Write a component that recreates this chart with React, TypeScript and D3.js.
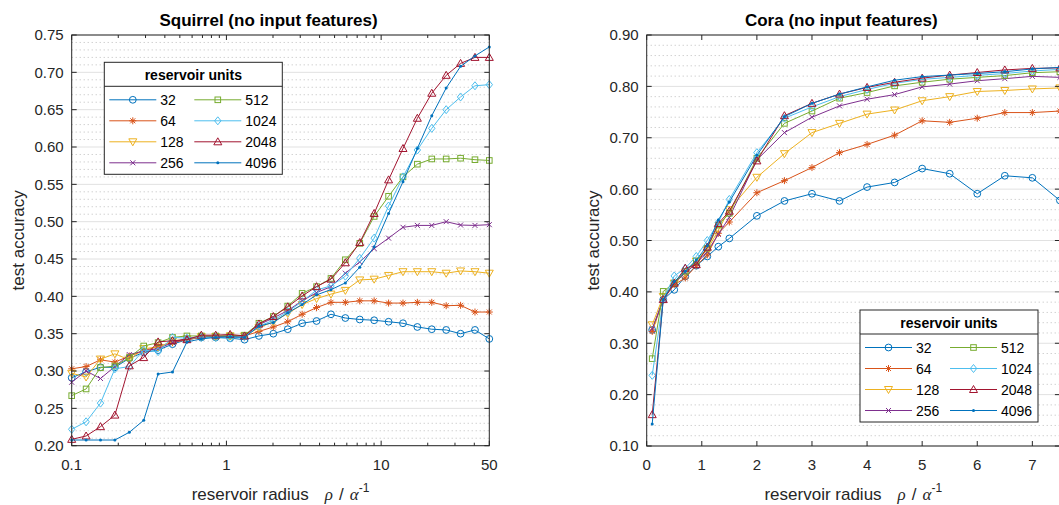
import React from "react";
import * as d3 from "d3";

const W = 1059;
const H = 505;

// legend entries, MATLAB default colour order (8th wraps to the first colour)
const units = ["32", "64", "128", "256", "512", "1024", "2048", "4096"];
const colors = ["#0072BD", "#D95319", "#EDB120", "#7E2F8E", "#77AC30", "#4DBEEE", "#A2142F", "#0072BD"];
const markers = ["circle", "asterisk", "triangleDown", "cross", "square", "diamond", "triangleUp", "dot"];

// ---- Squirrel (log x) ----
const squirrelRadius = [0.1, 0.1239, 0.1535, 0.1902, 0.2357, 0.292, 0.3618, 0.4483, 0.5555, 0.6883, 0.8528, 1.0567, 1.309, 1.622, 2.01, 2.491, 3.086, 3.824, 4.738, 5.87, 7.274, 9.012, 11.17, 13.84, 17.14, 21.24, 26.32, 32.61, 40.4, 50];
const squirrel32 = [0.291, 0.299, 0.305, 0.305, 0.317, 0.325, 0.328, 0.336, 0.342, 0.345, 0.345, 0.344, 0.342, 0.347, 0.35, 0.356, 0.364, 0.367, 0.376, 0.371, 0.369, 0.368, 0.366, 0.364, 0.359, 0.356, 0.355, 0.35, 0.355, 0.343];
const squirrel64 = [0.303, 0.306, 0.315, 0.312, 0.32, 0.327, 0.333, 0.338, 0.342, 0.345, 0.346, 0.347, 0.347, 0.353, 0.359, 0.366, 0.376, 0.385, 0.392, 0.392, 0.394, 0.394, 0.391, 0.391, 0.392, 0.392, 0.3875, 0.388, 0.379, 0.379];
const squirrel128 = [0.297, 0.292, 0.316, 0.323, 0.315, 0.33, 0.332, 0.34, 0.343, 0.346, 0.346, 0.347, 0.347, 0.358, 0.366, 0.377, 0.389, 0.397, 0.403, 0.408, 0.422, 0.423, 0.428, 0.433, 0.433, 0.433, 0.431, 0.434, 0.433, 0.431];
const squirrel256 = [0.285, 0.3, 0.29, 0.306, 0.322, 0.327, 0.33, 0.338, 0.344, 0.346, 0.346, 0.347, 0.347, 0.362, 0.371, 0.381, 0.394, 0.405, 0.413, 0.431, 0.446, 0.464, 0.478, 0.4925, 0.495, 0.495, 0.5, 0.4955, 0.495, 0.496];
const squirrel512 = [0.267, 0.276, 0.3045, 0.3067, 0.318, 0.3335, 0.338, 0.345, 0.347, 0.347, 0.347, 0.347, 0.348, 0.364, 0.373, 0.387, 0.404, 0.413, 0.424, 0.449, 0.471, 0.507, 0.534, 0.56, 0.577, 0.584, 0.584, 0.585, 0.583, 0.582];
const squirrel1024 = [0.222, 0.232, 0.257, 0.303, 0.306, 0.328, 0.326, 0.345, 0.344, 0.345, 0.345, 0.344, 0.346, 0.36, 0.368, 0.3795, 0.393, 0.4085, 0.414, 0.427, 0.451, 0.478, 0.521, 0.56, 0.596, 0.625, 0.65, 0.667, 0.682, 0.6835];
const squirrel2048 = [0.2085, 0.213, 0.2255, 0.241, 0.307, 0.318, 0.339, 0.3406, 0.342, 0.348, 0.348, 0.349, 0.347, 0.363, 0.373, 0.386, 0.4005, 0.413, 0.423, 0.445, 0.472, 0.511, 0.556, 0.598, 0.6385, 0.672, 0.696, 0.712, 0.72, 0.72];
const squirrel4096 = [0.2076, 0.2076, 0.2076, 0.2076, 0.218, 0.234, 0.296, 0.2987, 0.339, 0.343, 0.345, 0.346, 0.345, 0.36, 0.365, 0.378, 0.389, 0.402, 0.409, 0.418, 0.439, 0.4665, 0.511, 0.5536, 0.598, 0.642, 0.679, 0.708, 0.722, 0.734];
const squirrelYTicks = [0.2, 0.25, 0.3, 0.35, 0.4, 0.45, 0.5, 0.55, 0.6, 0.65, 0.7, 0.75];
const squirrelXTicks = [0.1, 1, 10, 50];
const squirrelXMinor = [0.2, 0.3, 0.4, 0.5, 0.6, 0.7, 0.8, 0.9, 2, 3, 4, 5, 6, 7, 8, 9, 20, 30, 40];

// ---- Cora (linear x) ----
const coraRadius = [0.1, 0.3, 0.5, 0.7, 0.9, 1.1, 1.3, 1.5, 2, 2.5, 3, 3.5, 4, 4.5, 5, 5.5, 6, 6.5, 7, 7.5];
const cora32 = [0.326, 0.385, 0.404, 0.43, 0.451, 0.469, 0.488, 0.504, 0.548, 0.577, 0.591, 0.577, 0.604, 0.613, 0.64, 0.63, 0.591, 0.626, 0.622, 0.578];
const cora64 = [0.323, 0.385, 0.414, 0.427, 0.451, 0.472, 0.514, 0.536, 0.593, 0.6165, 0.642, 0.671, 0.687, 0.705, 0.733, 0.73, 0.738, 0.749, 0.749, 0.752];
const cora128 = [0.336, 0.391, 0.417, 0.437, 0.46, 0.482, 0.52, 0.56, 0.623, 0.669, 0.71, 0.728, 0.746, 0.754, 0.772, 0.78, 0.79, 0.792, 0.795, 0.797];
const cora256 = [0.328, 0.385, 0.417, 0.437, 0.455, 0.478, 0.512, 0.545, 0.657, 0.71, 0.74, 0.762, 0.775, 0.784, 0.799, 0.8045, 0.811, 0.815, 0.8195, 0.8175];
const cora512 = [0.27, 0.401, 0.417, 0.44, 0.46, 0.485, 0.53, 0.553, 0.66, 0.728, 0.752, 0.777, 0.788, 0.801, 0.808, 0.814, 0.8175, 0.821, 0.8266, 0.8285];
const cora1024 = [0.2375, 0.385, 0.431, 0.446, 0.469, 0.5, 0.535, 0.58, 0.671, 0.738, 0.76, 0.78, 0.794, 0.806, 0.8136, 0.8175, 0.8214, 0.825, 0.83, 0.833];
const cora2048 = [0.161, 0.385, 0.417, 0.446, 0.453, 0.487, 0.533, 0.557, 0.655, 0.743, 0.767, 0.785, 0.798, 0.808, 0.816, 0.822, 0.827, 0.832, 0.835, 0.836];
const cora4096 = [0.143, 0.385, 0.42, 0.44, 0.462, 0.49, 0.54, 0.575, 0.666, 0.741, 0.767, 0.785, 0.799, 0.812, 0.819, 0.822, 0.825, 0.8285, 0.834, 0.837];
const coraYTicks = [0.1, 0.2, 0.3, 0.4, 0.5, 0.6, 0.7, 0.8, 0.9];
const coraXTicks = [0, 1, 2, 3, 4, 5, 6, 7];

const FONT = "'Liberation Sans', Arial, Helvetica, sans-serif";
const INK = "#262626";

function Marker({ type, x, y, color }: { type: string; x: number; y: number; color: string }) {
  switch (type) {
    case "circle":
      return <circle cx={x} cy={y} r={3.4} fill="none" stroke={color} />;
    case "asterisk":
      return (
        <path
          d={`M${x - 3.5},${y}H${x + 3.5}M${x},${y - 3.5}V${y + 3.5}M${x - 2.5},${y - 2.5}L${x + 2.5},${y + 2.5}M${x - 2.5},${y + 2.5}L${x + 2.5},${y - 2.5}`}
          stroke={color}
          fill="none"
        />
      );
    case "triangleDown":
      return <path d={`M${x - 4},${y - 3}L${x + 4},${y - 3}L${x},${y + 4}Z`} fill="none" stroke={color} />;
    case "triangleUp":
      return <path d={`M${x - 4},${y + 3}L${x + 4},${y + 3}L${x},${y - 4}Z`} fill="none" stroke={color} />;
    case "cross":
      return <path d={`M${x - 2.5},${y - 2.5}L${x + 2.5},${y + 2.5}M${x - 2.5},${y + 2.5}L${x + 2.5},${y - 2.5}`} stroke={color} />;
    case "square":
      return <rect x={x - 2.8} y={y - 2.8} width={5.6} height={5.6} fill="none" stroke={color} />;
    case "diamond":
      return <path d={`M${x},${y - 4}L${x + 3.2},${y}L${x},${y + 4}L${x - 3.2},${y}Z`} fill="none" stroke={color} />;
    default:
      return <circle cx={x} cy={y} r={1.5} fill={color} />;
  }
}

function Legend({ x, y }: { x: number; y: number }) {
  const w = 178;
  const h = 112;
  return (
    <g transform={`translate(${x},${y})`} fontFamily={FONT}>
      <rect width={w} height={h} fill="white" stroke={INK} />
      <line x1={0} x2={w} y1={24} y2={24} stroke={INK} />
      <text x={w / 2} y={17.5} textAnchor="middle" fontWeight="bold" fontSize={14} fill="#000">
        reservoir units
      </text>
      {units.map((u, i) => {
        const col = Math.floor(i / 4);
        const row = i % 4;
        const lx = col ? 90 : 5;
        const cy = 37.5 + row * 21;
        return (
          <g key={u}>
            <line x1={lx} x2={lx + 47} y1={cy} y2={cy} stroke={colors[i]} />
            <Marker type={markers[i]} x={lx + 23.5} y={cy} color={colors[i]} />
            <text x={lx + 51} y={cy} dy="0.36em" fontSize={14} fill="#000">
              {u}
            </text>
          </g>
        );
      })}
    </g>
  );
}

type PanelProps = {
  title: string;
  x: any;
  y: any;
  radius: number[];
  series: number[][];
  xTicks: number[];
  xMinor: number[];
  xFmt: (v: number) => string;
  yTicks: number[];
  yMinorStep: number;
  legend: [number, number];
};

function Panel({ title, x, y, radius, series, xTicks, xMinor, xFmt, yTicks, yMinorStep, legend }: PanelProps) {
  const [x0, x1] = x.range();
  const [yb, yt] = y.range();
  const [d0, d1] = y.domain();
  const minor = d3
    .range(Math.round((d1 - d0) / yMinorStep) + 1)
    .map((k) => d0 + k * yMinorStep)
    .filter((v) => !yTicks.some((t) => Math.abs(t - v) < 1e-6));
  const line = d3
    .line<[number, number]>()
    .x((d) => x(d[0]))
    .y((d) => y(d[1]));
  const cx = (x0 + x1) / 2;
  const cy = (yb + yt) / 2;

  return (
    <g fontFamily={FONT}>
      {/* grid */}
      {minor.map((v) => (
        <line key={"mg" + v} x1={x0} x2={x1} y1={y(v)} y2={y(v)} stroke="#bdbdbd" strokeDasharray="1 3" />
      ))}
      {yTicks.map((v) => (
        <line key={"g" + v} x1={x0} x2={x1} y1={y(v)} y2={y(v)} stroke="#e1e1e1" />
      ))}

      {/* series */}
      {series.map((s, i) => (
        <g key={"s" + i}>
          <path d={line(radius.map((r, j) => [r, s[j]] as [number, number])) || ""} fill="none" stroke={colors[i]} strokeWidth={1} />
          {radius.map((r, j) => (
            <Marker key={j} type={markers[i]} x={x(r)} y={y(s[j])} color={colors[i]} />
          ))}
        </g>
      ))}

      {/* axes box + ticks */}
      <rect x={x0} y={yt} width={x1 - x0} height={yb - yt} fill="none" stroke={INK} />
      {xTicks.map((v) => (
        <g key={"xt" + v}>
          <line x1={x(v)} x2={x(v)} y1={yb} y2={yb - 5} stroke={INK} />
          <line x1={x(v)} x2={x(v)} y1={yt} y2={yt + 5} stroke={INK} />
          <text x={x(v)} y={yb + 24} textAnchor="middle" fontSize={15} fill={INK}>
            {xFmt(v)}
          </text>
        </g>
      ))}
      {xMinor.map((v) => (
        <g key={"xm" + v}>
          <line x1={x(v)} x2={x(v)} y1={yb} y2={yb - 3} stroke={INK} />
          <line x1={x(v)} x2={x(v)} y1={yt} y2={yt + 3} stroke={INK} />
        </g>
      ))}
      {yTicks.map((v) => (
        <g key={"yt" + v}>
          <line x1={x0} x2={x0 + 5} y1={y(v)} y2={y(v)} stroke={INK} />
          <line x1={x1} x2={x1 - 5} y1={y(v)} y2={y(v)} stroke={INK} />
          <text x={x0 - 8} y={y(v)} dy="0.36em" textAnchor="end" fontSize={15} fill={INK}>
            {d3.format(".2f")(v)}
          </text>
        </g>
      ))}

      {/* labels */}
      <text x={cx - 12} y={26} textAnchor="middle" fontSize={17} fontWeight="bold" fill="#000">
        {title}
      </text>
      <text transform={`translate(${x0 - 48},${cy}) rotate(-90)`} textAnchor="middle" fontSize={17} fill={INK}>
        test accuracy
      </text>
      <text x={cx} y={500} textAnchor="middle" fontSize={17} fill={INK}>
        reservoir radius
        <tspan dx={16} fontFamily="'Liberation Serif', serif" fontStyle="italic">
          ρ
        </tspan>
        <tspan dx={6}>/</tspan>
        <tspan dx={6} fontFamily="'Liberation Serif', serif" fontStyle="italic">
          α
        </tspan>
        <tspan dy={-8} fontSize={12}>
          -1
        </tspan>
      </text>

      <Legend x={legend[0]} y={legend[1]} />
    </g>
  );
}

export default function App() {
  const sx = d3.scaleLog().domain([0.1, 50]).range([71.7, 489.3]);
  const sy = d3.scaleLinear().domain([0.2, 0.75]).range([445.7, 35]);
  const cxs = d3.scaleLinear().domain([0, 7.5]).range([646.7, 1059.9]);
  const cys = d3.scaleLinear().domain([0.1, 0.9]).range([446, 35]);

  return (
    <svg
      width={W}
      height={H}
      style={{ position: "absolute", left: 0, top: 0, background: "white", overflow: "hidden" }}
    >
      <Panel
        title="Squirrel (no input features)"
        x={sx}
        y={sy}
        radius={squirrelRadius}
        series={[squirrel32, squirrel64, squirrel128, squirrel256, squirrel512, squirrel1024, squirrel2048, squirrel4096]}
        xTicks={squirrelXTicks}
        xMinor={squirrelXMinor}
        xFmt={(v) => String(v)}
        yTicks={squirrelYTicks}
        yMinorStep={0.01}
        legend={[104.3, 62.3]}
      />
      <Panel
        title="Cora (no input features)"
        x={cxs}
        y={cys}
        radius={coraRadius}
        series={[cora32, cora64, cora128, cora256, cora512, cora1024, cora2048, cora4096]}
        xTicks={coraXTicks}
        xMinor={[]}
        xFmt={(v) => String(v)}
        yTicks={coraYTicks}
        yMinorStep={0.02}
        legend={[860, 310]}
      />
    </svg>
  );
}
